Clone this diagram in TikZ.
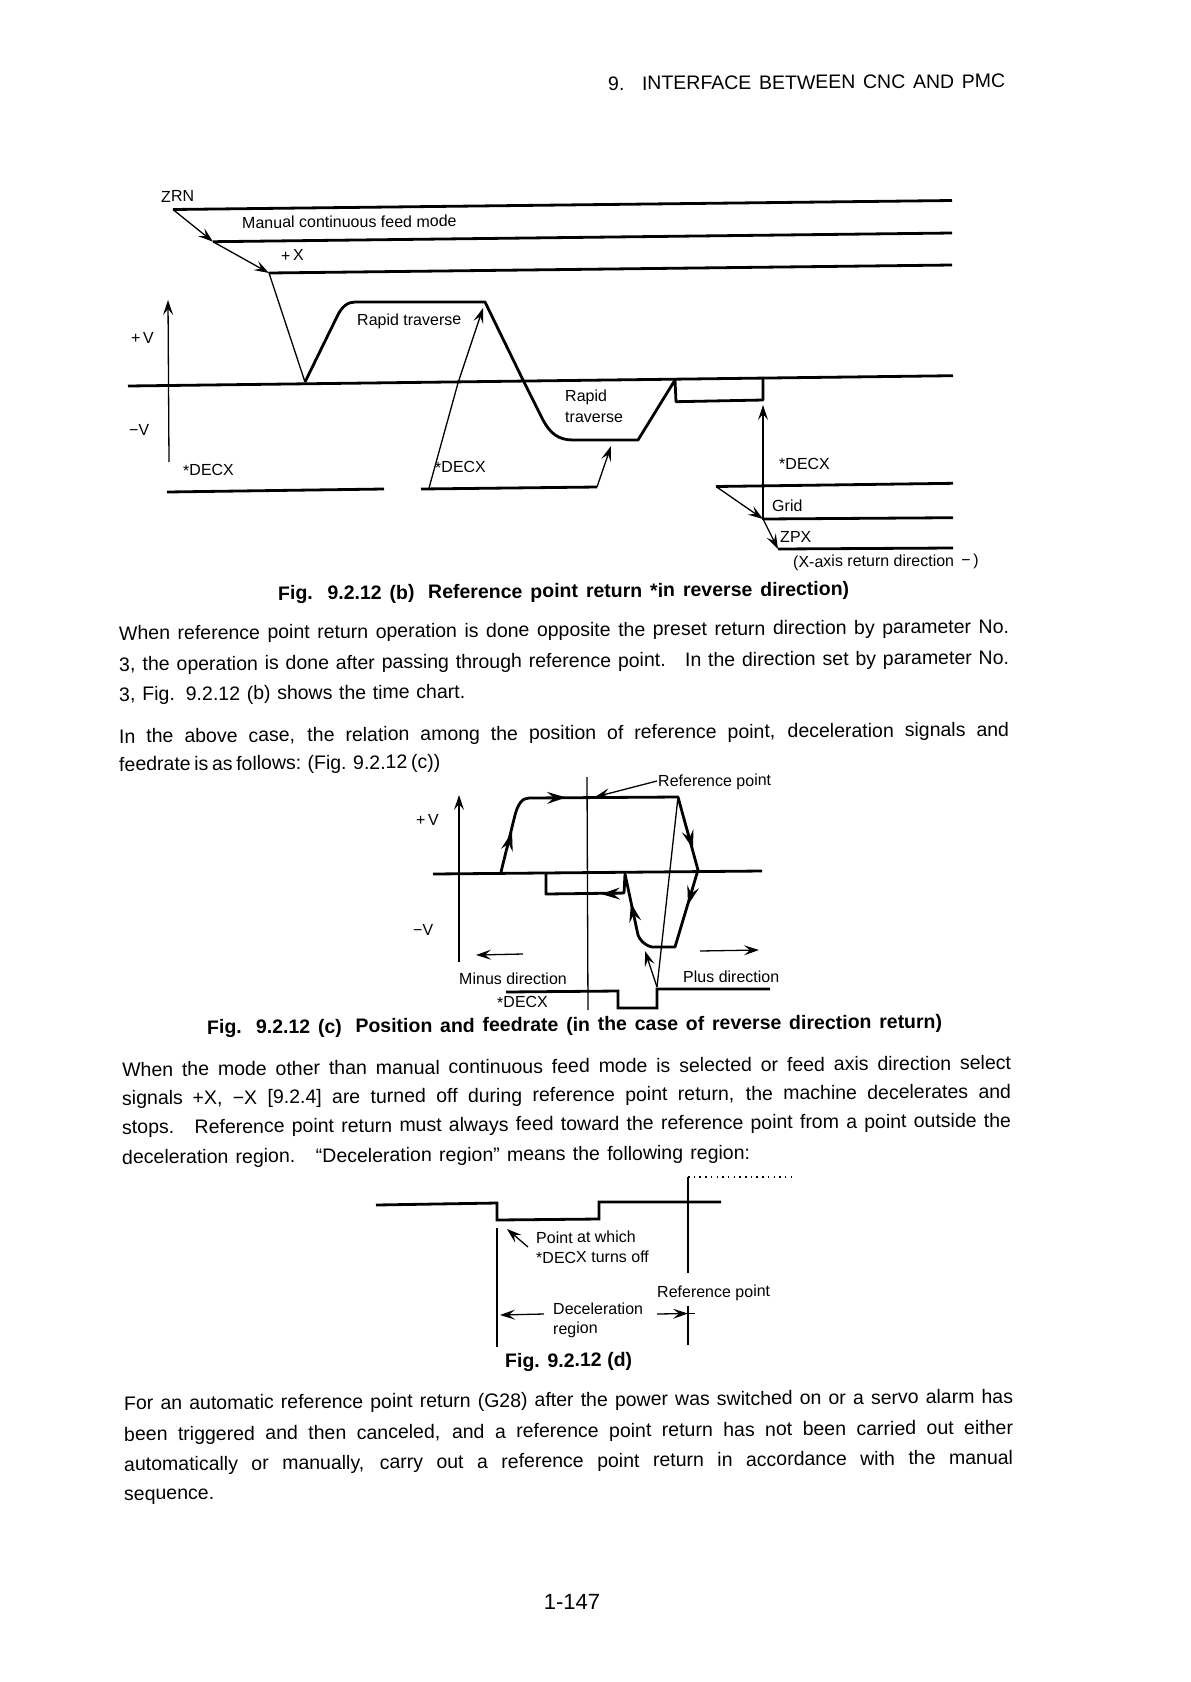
\documentclass[tikz,border=0pt]{standalone}
\usepackage{fontspec}
\setmainfont{Liberation Sans}
\usetikzlibrary{arrows.meta}
\tikzset{
  thk/.style={line width=2.8pt,line join=miter},
  thn/.style={line width=1.3pt},
  tip/.style={-{Stealth[length=15pt,width=10pt,inset=6pt]},line width=1.3pt},
  tipb/.style={-{Stealth[length=19pt,width=12pt,inset=7pt]},line width=1.6pt},
  lab/.style={anchor=west,inner sep=0pt,font=\fontsize{16}{18}\selectfont,rotate=0.4},
  bodyt/.style={anchor=west,inner sep=0pt,font=\fontsize{19.5}{22}\selectfont,rotate=0.45},
  capt/.style={anchor=west,inner sep=0pt,font=\fontsize{19.5}{22}\selectfont\bfseries,rotate=0.45},
}
\newcommand{\fit}[2]{\makebox[#1pt][s]{#2}}
\begin{document}
\begin{tikzpicture}[x=1pt,y=-1pt]
\path[use as bounding box,fill=white] (0,0) rectangle (1191,1682);

% header and page number
\node[bodyt,rotate=-0.1] (hdr) at (608,83.5) {\fit{397}{9.\hspace{0.9em}INTERFACE BETWEEN CNC AND PMC}};
\node[anchor=center,inner sep=0pt,font=\fontsize{22}{24}\selectfont] (pg) at (572,1602) {1-147};

% ---------- Fig (b) ----------
\coordinate (z1) at (173,209.5);
\coordinate (z2) at (213,241.7);
\coordinate (z3) at (269,273);
\draw[thk] (z1) -- (952,200.5);
\draw[thk] (z2) -- (952,233);
\draw[thk] (z3) -- (952,265);
\draw[tip] (z1) -- (z2);
\draw[tip] (z2) -- (z3);
\coordinate (b0) at (305,382);
\draw[thn] (z3) -- (b0);
\draw[thk] (128,386) -- (953,375.7);
\draw[tip] (169,462) -- (168,300);
\draw[thk,line join=round] (b0) -- (337,316.7) .. controls (342,306) and (348,302) .. (355,302) -- (485,302)
   -- (523,380) -- (543,420) .. controls (550,433) and (558,440) .. (573,440) -- (638,440) -- (675,380)
   -- (676,401.7) -- (763,400) -- (763,377);
\draw[thk] (167,492) -- (384,489);
\coordinate (d2a) at (421,489);
\coordinate (d2b) at (597,487);
\draw[thk] (d2a) -- (d2b);
\draw[thn] (429,488) -- (458,383);
\draw[tip] (458,383) -- (483,308);
\draw[tip] (d2b) -- (611,446);
\draw[tip] (763,520) -- (763,405);
\coordinate (g1) at (716,486.5);
\coordinate (g2) at (763,519);
\coordinate (g3) at (778,549);
\draw[thk] (g1) -- (953,483.3);
\draw[thk] (g2) -- (953,517.7);
\draw[thk] (g3) -- (953,548);
\draw[tip] (g1) -- (g2);
\draw[tip] (g2) -- (g3);

\node[lab] (zrn) at (161,196.5) {ZRN};
\node[lab] (mcf) at (242,222.5) {Manual continuous feed mode};
\node[lab] (px) at (281,255.5) {+\,X};
\node[lab] (pv) at (131,338) {+\,V};
\node[lab] (mv) at (129,430) {−V};
\node[lab] (rt1) at (357,321.5) {Rapid traverse};
\node[lab] (rt2) at (565,397.5) {Rapid};
\node[lab] (rt3) at (565,417.5) {traverse};
\node[lab] (dx1) at (183,470.5) {*DECX};
\node[lab] (dx2) at (435,467.5) {*DECX};
\node[lab] (dx3) at (779,464) {*DECX};
\node[lab] (grd) at (772,505.5) {Grid};
\node[lab] (zpx) at (780,537) {ZPX};
\node[lab] (xax) at (793,563) {(X-axis return direction\, −\,)};
\node[capt] (capb) at (278,595) {\fit{571}{Fig. 9.2.12 (b)\hspace{0.7em}Reference point return *in reverse direction)}};

% paragraph 1
\node[bodyt] (l1) at (119,635) {\fit{890}{When reference point return operation is done opposite the preset return direction by parameter No.}};
\node[bodyt] (l2) at (119,666) {\fit{890}{3, the operation is done after passing through reference point.\hspace{0.4em} In the direction set by parameter No.}};
\node[bodyt] (l3) at (119,696) {\fit{346}{3, Fig. 9.2.12 (b) shows the time chart.}};
\node[bodyt] (l4) at (119,738) {\fit{890}{In the above case, the relation among the position of reference point, deceleration signals and}};
\node[bodyt] (l5) at (119,766) {\fit{277}{feedrate is as follows: (Fig. 9.2.12 (c))}};

% ---------- Fig (c) ----------
\draw[tip] (459,962) -- (459,795);
\draw[thk] (433,874) -- (762,871);
\draw[thn] (587,777) -- (588,1010);
\coordinate (c1) at (678,797);
\coordinate (c2) at (657,987);
\draw[thk,line join=round] (501,872) -- (515,815) .. controls (518,804) and (522,798) .. (529,798) -- (c1) -- (698,870)
  -- (675,947) -- (652,947) .. controls (644,945) and (640,940) .. (638,935) -- (625,874) -- (624,893) -- (546,894) -- (546,874);
\draw[tip] (657,781) -- (595,797);
\draw[thn] (c1) -- (c2);
\draw[tip] (c2) -- (645,951);
\draw[thk] (506,992) -- (618,991) -- (618,1008) -- (657,1008) -- (657,989) -- (770,989);
\draw[tip] (523,954) -- (476,955);
\draw[tip] (700,951) -- (759,950);
% arrowheads on the curve
\draw[tipb] (507,850) -- (512,832);
\draw[tipb] (540,798) -- (566,797.5);
\draw[tipb] (686,825) -- (693,849);
\draw[tipb] (695,880) -- (688,905);
\draw[tipb] (636,925) -- (631,903);
\draw[tipb] (622,893.5) -- (601,894);

\node[lab] (ref1) at (658,782.5) {Reference point};
\node[lab] (pv2) at (416,820) {+\,V};
\node[lab] (mv2) at (413,930) {−V};
\node[lab] (minus) at (459,979) {Minus direction};
\node[lab] (plus) at (683,977) {Plus direction};
\node[lab] (dx4) at (497,1002.5) {*DECX};
\node[capt] (capc) at (207,1029) {\fit{735}{Fig. 9.2.12 (c)\hspace{0.7em}Position and feedrate (in the case of reverse direction return)}};

% paragraph 2
\node[bodyt] (m1) at (122,1069.5) {\fit{889}{When the mode other than manual continuous feed mode is selected or feed axis direction select}};
\node[bodyt] (m2) at (122,1100) {\fit{889}{signals\hspace{0.5em}+X, −X [9.2.4] are turned off during reference point return, the machine decelerates and}};
\node[bodyt] (m3) at (122,1129) {\fit{889}{stops.\hspace{0.4em} Reference point return must always feed toward the reference point from a point outside the}};
\node[bodyt] (m4) at (122,1159) {\fit{628}{deceleration region.\hspace{0.4em} “Deceleration region” means the following region:}};

% ---------- Fig (d) ----------
\draw[thk] (376,1205) -- (497,1203) -- (497,1220) -- (599,1219) -- (599,1202) -- (721,1202);
\coordinate (r1) at (688,1177);
\draw[thn] (r1) -- (688,1273);
\draw[line width=1.5pt,dash pattern=on 1.5pt off 4.2pt] (r1) -- (792,1177);
\draw[thn] (497,1228) -- (497,1347);
\draw[tip] (528,1247) -- (507,1229);
\draw[tip] (544,1314) -- (500,1315);
\draw[thn] (688,1306) -- (688,1345);
\draw[tip] (657,1314) -- (688,1313.5);
\draw[thn] (688,1313.5) -- (695,1313.5);

\node[lab] (pw) at (536,1237.5) {Point at which};
\node[lab] (tf) at (536,1257.5) {*DECX turns off};
\node[lab] (ref2) at (657,1293.5) {Reference point};
\node[lab] (dec) at (553,1309) {Deceleration};
\node[lab] (reg) at (553,1330) {region};
\node[capt] (capd) at (505,1362.5) {\fit{127}{Fig. 9.2.12 (d)}};

% paragraph 3
\node[bodyt] (n1) at (124,1405) {\fit{889}{For an automatic reference point return (G28) after the power was switched on or a servo alarm has}};
\node[bodyt] (n2) at (124,1436) {\fit{889}{been triggered and then canceled, and a reference point return has not been carried out either}};
\node[bodyt] (n3) at (124,1466) {\fit{889}{automatically or manually, carry out a reference point return in accordance with the manual}};
\node[bodyt] (n4) at (124,1497) {\fit{91}{sequence.}};
\end{tikzpicture}
\end{document}
